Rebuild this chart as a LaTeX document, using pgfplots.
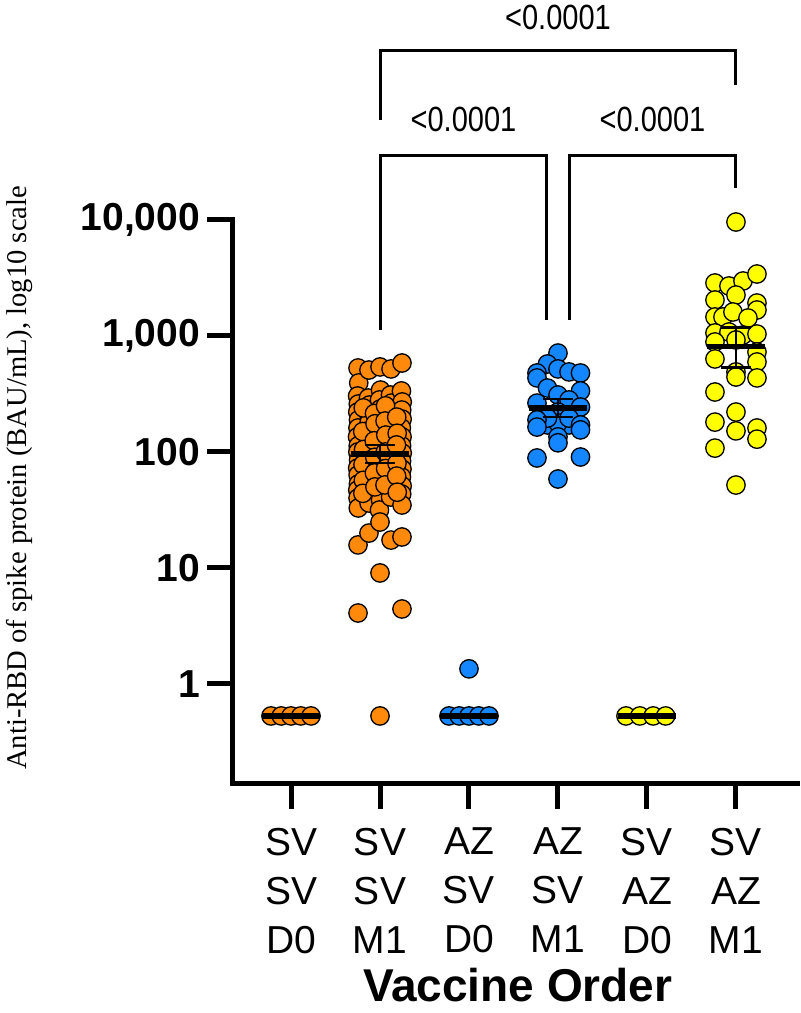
\documentclass[border=0pt]{standalone}
\usepackage{fontspec}
\setmainfont{Liberation Sans}
\newfontfamily\serif{Liberation Serif}
\newfontfamily\narrow[FakeStretch=0.83]{Liberation Sans}
\usepackage{pgfplots}
\usepackage{pgfplotstable}
\pgfplotsset{compat=1.18}
\definecolor{svorange}{RGB}{255,137,10}
\definecolor{azblue}{RGB}{20,134,255}
\definecolor{azyellow}{RGB}{255,255,0}

% SV SV M1
\pgfplotstableread{
x y
0.753 530
0.761 394
0.748 304
0.756 259
0.750 221
0.758 189
0.752 161
0.747 135
0.755 113
0.751 100
0.759 85.3
0.749 72.8
0.754 63.4
0.757 53.0
0.750 47.0
0.753 40.1
0.756 32.9
0.753 15.8
0.753 4.09
0.876 509
0.870 292
0.881 254
0.874 213
0.879 181
0.868 152
0.884 127
0.872 106
0.878 92.4
0.869 80.4
0.883 68.6
0.875 58.5
0.880 49.9
0.871 42.6
0.877 36.3
0.876 20.0
1.000 541
1.006 342
0.994 281
1.004 235
0.996 200
1.007 168
0.993 143
1.002 120
0.997 88.8
1.005 75.7
0.995 64.6
1.003 55.1
0.998 46.1
1.006 38.6
0.994 31.6
1.000 24.9
1.000 9.06
1.000 0.53
1.124 520
1.118 310
1.129 264
1.121 221
1.127 189
1.116 158
1.130 132
1.120 110
1.126 94.2
1.117 82.0
1.128 70.0
1.122 59.7
1.125 48.9
1.119 40.9
1.124 17.4
1.247 585
1.241 336
1.250 270
1.244 230
1.249 192
1.240 161
1.248 135
1.243 113
1.250 98
1.242 83.6
1.247 71.3
1.241 60.9
1.249 50.9
1.244 43.4
1.247 34.9
1.247 18.5
1.247 4.43
0.812 240
0.806 150
0.815 105
0.809 78
0.813 57
0.807 44
0.938 215
0.944 175
0.935 125
0.941 90
0.937 66
0.943 50
1.062 250
1.057 185
1.065 140
1.059 100
1.063 72
1.056 52
1.188 200
1.193 145
1.185 115
1.191 80
1.187 62
1.194 45
}\svsvmone

% AZ SV M1
\pgfplotstableread{
x y
3.000 713
2.882 574
2.764 480
2.764 435
3.000 520
3.124 490
3.253 480
2.882 356
3.253 336
3.000 310
2.764 264
3.124 281
3.253 244
3.000 221
2.882 171
3.124 171
3.000 178
2.882 196
3.124 196
2.764 189
2.764 164
3.253 171
3.253 155
3.000 135
3.000 120
2.764 88.8
3.253 90.5
3.000 58.5
}\azsvmone

% SV AZ M1
\pgfplotstableread{
x y
5.000 9610
4.764 2864
4.921 2698
5.079 2980
5.236 3423
5.000 2256
4.764 2043
5.236 1925
5.236 1675
4.764 1459
4.854 1459
4.966 1611
5.135 1429
4.764 1062
4.921 1082
5.079 1020
5.236 1040
4.764 888
5.000 924
5.236 728
5.236 597
4.764 634
5.000 490
5.000 443
5.236 435
4.764 329
5.000 221
4.764 181
5.000 152
5.236 161
5.236 129
4.764 108
5.000 51.9
}\svazmone

\begin{document}
\begin{tikzpicture}
\path[use as bounding box] (-116.5pt,-115pt) rectangle (283.5pt,391.5pt);
\begin{axis}[
  at={(0,0)}, anchor=south west,
  scale only axis, width=282.5pt, height=281.5pt,
  ymode=log, ymin=0.14, ymax=10000,
  xmin=-0.652, xmax=5.697,
  clip=false, clip marker paths=true,
  axis x line=bottom, axis y line=left,
  axis line style={line width=2.5pt, -, line cap=rect},
  tick align=outside, major tick length=13pt,
  every tick/.style={line width=2.5pt, black},
  yminorticks=false,
  ytick={1,10,100,1000,10000},
  yticklabels={1,10,100,{1,000},{10,000}},
  yticklabel style={font=\fontsize{19.5}{20}\selectfont\bfseries},
  xtick={0,1,2,3,4,5},
  xticklabels={{SV\\SV\\D0},{SV\\SV\\M1},{AZ\\SV\\D0},{AZ\\SV\\M1},{SV\\AZ\\D0},{SV\\AZ\\M1}},
  xticklabel style={font=\fontsize{19.5}{24.5}\selectfont, align=center, yshift=-6pt},
  xlabel={Vaccine Order},
  xlabel style={at={(axis description cs:0.504,-0.359)}, anchor=center, font=\fontsize{23}{24}\selectfont\bfseries},
  ylabel={Anti-RBD of spike protein (BAU/mL), log10 scale},
  ylabel style={at={(axis description cs:-0.377,0.542)}, anchor=center, font=\serif\fontsize{14.3}{15}\selectfont},
  mark size=4.6pt,
]
% day 0 groups
\addplot[only marks, mark=*, mark options={fill=svorange, draw=black, line width=0.65pt}] coordinates {(-0.225,0.53) (-0.11,0.53) (0,0.53) (0.11,0.53) (0.225,0.53)};
\addplot[only marks, mark=*, mark options={fill=azblue, draw=black, line width=0.65pt}] coordinates {(1.775,0.53) (1.89,0.53) (2,0.53) (2.11,0.53) (2.225,0.53) (2,1.35)};
\addplot[only marks, mark=*, mark options={fill=azyellow, draw=black, line width=0.65pt}] coordinates {(3.764,0.53) (3.92,0.53) (4.07,0.53) (4.21,0.53)};
% month 1 groups
\addplot[only marks, mark=*, mark options={fill=svorange, draw=black, line width=0.65pt}] table {\svsvmone};
\addplot[only marks, mark=*, mark options={fill=azblue, draw=black, line width=0.65pt}] table {\azsvmone};
\addplot[only marks, mark=*, mark options={fill=azyellow, draw=black, line width=0.65pt}] table {\svazmone};
% means
\addplot[black, line width=2.75pt] coordinates {(-0.331,0.53) (0.331,0.53)};
\addplot[black, line width=2.75pt] coordinates {(1.669,0.53) (2.331,0.53)};
\addplot[black, line width=2.75pt] coordinates {(3.669,0.53) (4.331,0.53)};
\addplot[black, line width=2.75pt] coordinates {(0.669,96) (1.331,96)};
\addplot[black, line width=2.75pt] coordinates {(2.669,240) (3.331,240)};
\addplot[black, line width=2.75pt] coordinates {(4.669,809) (5.331,809)};
% confidence whiskers
\addplot[black, line width=1.25pt] coordinates {(0.831,115) (1.169,115)};
\addplot[black, line width=1.25pt] coordinates {(0.831,80.4) (1.169,80.4)};
\addplot[black, line width=1.25pt] coordinates {(1,115) (1,80.4)};
\addplot[black, line width=1.25pt] coordinates {(2.831,286) (3.169,286)};
\addplot[black, line width=1.25pt] coordinates {(2.831,200) (3.169,200)};
\addplot[black, line width=1.25pt] coordinates {(3,286) (3,200)};
\addplot[black, line width=1.25pt] coordinates {(4.831,1180) (5.169,1180)};
\addplot[black, line width=1.25pt] coordinates {(4.831,533) (5.169,533)};
\addplot[black, line width=1.25pt] coordinates {(5,1180) (5,533)};
% significance brackets
\draw[line width=1.5pt] (axis cs:1,72800) -- (axis cs:1,292000) -- (axis cs:5,292000) -- (axis cs:5,146000);
\draw[line width=1.5pt] (axis cs:1,1127) -- (axis cs:1,36300) -- (axis cs:2.876,36300) -- (axis cs:2.876,1374);
\draw[line width=1.5pt] (axis cs:3.124,1374) -- (axis cs:3.124,36300) -- (axis cs:5,36300) -- (axis cs:5,18900);
\node[font=\narrow\fontsize{17.5}{18}\selectfont] at (axis cs:3,562000) {<0.0001};
\node[font=\narrow\fontsize{17.5}{18}\selectfont] at (axis cs:1.938,74300) {<0.0001};
\node[font=\narrow\fontsize{17.5}{18}\selectfont] at (axis cs:4.062,74300) {<0.0001};
\end{axis}
\end{tikzpicture}
\end{document}
